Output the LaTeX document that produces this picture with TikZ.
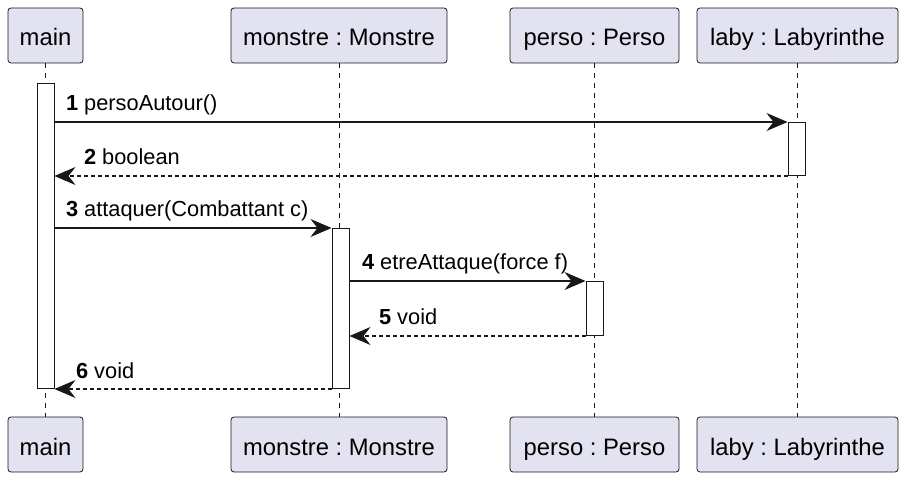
\documentclass[tikz,border=0pt]{standalone}
\usepackage{fontspec}
\setmainfont{Liberation Sans}
\usetikzlibrary{arrows.meta}
\definecolor{partfill}{HTML}{E2E2F0}
\definecolor{ink}{HTML}{181818}
\frenchspacing
\begin{document}
\begin{tikzpicture}[x=1pt,y=-1pt,
  participant/.style={draw=ink, fill=partfill, rounded corners=3pt, line width=0.8pt,
    minimum height=55pt, inner sep=0pt, font=\fontsize{23.8}{28}\selectfont,
    text height=21pt, text depth=0pt},
  lifeline/.style={draw=ink, line width=0.7pt, dash pattern=on 5pt off 5pt},
  actbar/.style={draw=ink, fill=white, line width=1pt, minimum width=17pt, inner sep=0pt, anchor=north},
  msg/.style={draw=ink, line width=1.1pt, -{Stealth[length=21pt,width=18pt,inset=7pt]}},
  ret/.style={msg, dash pattern=on 4pt off 3pt},
  lbl/.style={font=\fontsize{21.8}{26}\selectfont, anchor=base west, inner sep=0pt}
]
\useasboundingbox (0,0) rectangle (906,481);
% participants top
\node[participant, minimum width=75pt]  (mainT)  at (45.5,35.5)  {main};
\node[participant, minimum width=216pt] (monT)   at (339,35.5)   {monstre : Monstre};
\node[participant, minimum width=169pt] (persoT) at (594.5,35.5) {perso : Perso};
\node[participant, minimum width=201pt] (labyT)  at (797.5,35.5) {laby : Labyrinthe};
% participants bottom
\node[participant, minimum width=75pt]  (mainB)  at (45.5,444.5)  {main};
\node[participant, minimum width=216pt] (monB)   at (339,444.5)   {monstre : Monstre};
\node[participant, minimum width=169pt] (persoB) at (594.5,444.5) {perso : Perso};
\node[participant, minimum width=201pt] (labyB)  at (797.5,444.5) {laby : Labyrinthe};
% lifelines
\draw[lifeline] (mainT.south) -- (mainB.north);
\draw[lifeline] (monT.south) -- (monB.north);
\draw[lifeline] (persoT.south) -- (persoB.north);
\draw[lifeline] (labyT.south) -- (labyB.north);
% activation bars
\node[actbar, minimum height=305pt] (mainA)  at (45.5,83) {};
\node[actbar, minimum height=160pt] (monA)   at (340.5,228) {};
\node[actbar, minimum height=54pt]  (persoA) at (594.5,281) {};
\node[actbar, minimum height=53pt]  (labyA)  at (796.5,122) {};
% messages
\draw[msg] (mainA.east |- labyA.north west) -- (labyA.north west)
  node[lbl, pos=0, xshift=11pt, yshift=11pt] {\textbf{1} persoAutour()};
\draw[ret] (labyA.south west) -- (mainA.east |- labyA.south west)
  node[lbl, pos=1, xshift=29pt, yshift=11pt] {\textbf{2} boolean};
\draw[msg] (mainA.east |- monA.north west) -- (monA.north west)
  node[lbl, pos=0, xshift=11pt, yshift=11pt] {\textbf{3} attaquer(Combattant c)};
\draw[msg] (monA.east |- persoA.north west) -- (persoA.north west)
  node[lbl, pos=0, xshift=12pt, yshift=11pt] {\textbf{4} etreAttaque(force f)};
\draw[ret] (persoA.south west) -- (monA.east |- persoA.south west)
  node[lbl, pos=1, xshift=29pt, yshift=11pt] {\textbf{5} void};
\draw[ret] (monA.south west) -- (mainA.south east)
  node[lbl, pos=1, xshift=21pt, yshift=11pt] {\textbf{6} void};
\end{tikzpicture}
\end{document}
